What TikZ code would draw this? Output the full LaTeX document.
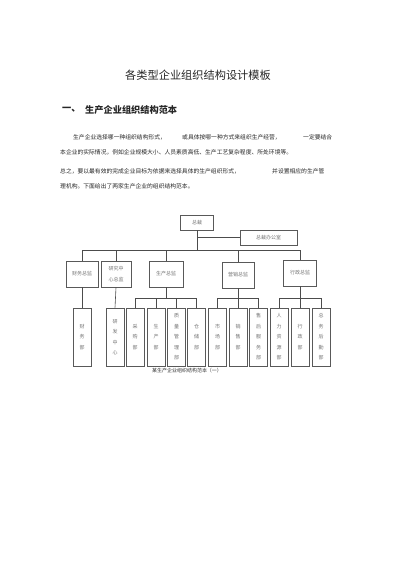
\documentclass[tikz,border=0pt]{standalone}
\usepackage{fontspec}
\setmainfont{Noto Sans CJK SC}
\newfontfamily\cjk{Noto Sans CJK SC}
\begin{document}
\begin{tikzpicture}[x=1pt,y=-1pt,
  every node/.style={inner sep=0pt, font=\cjk},
  txt/.style={anchor=west, font=\cjk\fontsize{5.8}{7}\selectfont, text=black!85},
  lvltwo/.style={draw=black!65, line width=0.8pt, minimum height=26pt, align=center,
     font=\cjk\fontsize{5}{11}\selectfont, text=black!55},
  lvlthree/.style={draw=black!65, line width=0.8pt, minimum width=18pt, minimum height=58pt,
     align=center, font=\cjk\fontsize{5}{10.5}\selectfont, text=black!55},
  topbox/.style={draw=black!65, line width=0.8pt, minimum height=15pt,
     font=\cjk\fontsize{5}{6}\selectfont, text=black!55},
  wire/.style={draw=black!70, line width=0.6pt}
]
\useasboundingbox[fill=white] (0,0) rectangle (400,566);

% title and heading
\node[font=\cjk\fontsize{11.2}{13}\selectfont, text=black!85] (title) at (198,75) {各类型企业组织结构设计模板};
\node[anchor=west, font=\cjk\bfseries\fontsize{9.2}{11}\selectfont, text=black!85] (hnum) at (62,110) {一、};
\node[anchor=west, font=\cjk\bfseries\fontsize{9.2}{11}\selectfont, text=black!85] (head) at (85,110) {生产企业组织结构范本};

% paragraph
\node[txt] (p1a) at (73,137) {生产企业选择哪一种组织结构形式，};
\node[txt] (p1b) at (182,137) {或具体按哪一种方式来组织生产经营，};
\node[txt] (p1c) at (303,137) {一定要结合};
\node[txt] (p2) at (60,152) {本企业的实际情况，例如企业规模大小、人员素质高低、生产工艺复杂程度、所处环境等。};
\node[txt] (p3a) at (60,171) {总之，要以最有效的完成企业目标为依据来选择具体的生产组织形式，};
\node[txt] (p3b) at (272,171) {并设置相应的生产管};
\node[txt] (p4) at (60,186) {理机构。下面给出了两家生产企业的组织结构范本。};

% chart top
\node[topbox, minimum width=33pt] (ceo) at (197,222.5) {总裁};
\node[topbox, minimum width=57pt] (office) at (268.5,237.5) {总裁办公室};
\coordinate (bus) at (0,250);
\coordinate (sub) at (0,298);

% level two
\node[lvltwo, minimum width=32pt] (fin) at (82,274) {财务总监};
\node[lvltwo, minimum width=30pt] (rnd) at (116,274) {研究中\\心总监};
\node[lvltwo, minimum width=34pt] (prod) at (166,274) {生产总监};
\node[lvltwo, minimum width=32pt] (mkt) at (238,275) {营销总监};
\node[lvltwo, minimum width=33pt] (adm) at (300,273) {行政总监};

% level three
\node[lvlthree] (cw) at (82,337) {财\\务\\部};
\node[lvlthree] (yf) at (115,337) {研\\发\\中\\心};
\node[lvlthree] (cg) at (135,337) {采\\购\\部};
\node[lvlthree] (sc) at (156,337) {生\\产\\部};
\node[lvlthree] (zl) at (176.5,337) {质\\量\\管\\理\\部};
\node[lvlthree] (cc) at (196.5,337) {仓\\储\\部};
\node[lvlthree] (sch) at (217.5,337) {市\\场\\部};
\node[lvlthree] (xs) at (238,337) {销\\售\\部};
\node[lvlthree] (sh) at (258.5,337) {售\\后\\服\\务\\部};
\node[lvlthree] (rl) at (279,337) {人\\力\\资\\源\\部};
\node[lvlthree] (xz) at (300,337) {行\\政\\部};
\node[lvlthree] (zw) at (321,337) {总\\务\\后\\勤\\部};

\node[font=\cjk\fontsize{5}{6}\selectfont, text=black!80] (cap) at (187,371) {某生产企业组织结构范本（一）};

% connectors
\draw[wire] (ceo.south) -- (ceo.south |- bus);
\draw[wire] (ceo.south |- office.west) -- (office.west);
\draw[wire] (fin.north |- bus) -- (adm.north |- bus);
\foreach \n in {fin,rnd,prod,mkt,adm} \draw[wire] (\n.north |- bus) -- (\n.north);
\draw[wire] (fin.south) -- (cw.north);
\draw[wire] (rnd.south) -- (yf.north);
\draw[wire] (prod.south) -- (prod.south |- sub);
\draw[wire] (cg.north |- sub) -- (cc.north |- sub);
\foreach \n in {cg,sc,zl,cc} \draw[wire] (\n.north |- sub) -- (\n.north);
\draw[wire] (mkt.south) -- (mkt.south |- sub);
\draw[wire] (sch.north |- sub) -- (sh.north |- sub);
\foreach \n in {sch,xs,sh} \draw[wire] (\n.north |- sub) -- (\n.north);
\draw[wire] (adm.south) -- (adm.south |- sub);
\draw[wire] (rl.north |- sub) -- (zw.north |- sub);
\foreach \n in {rl,xz,zw} \draw[wire] (\n.north |- sub) -- (\n.north);
\end{tikzpicture}
\end{document}
